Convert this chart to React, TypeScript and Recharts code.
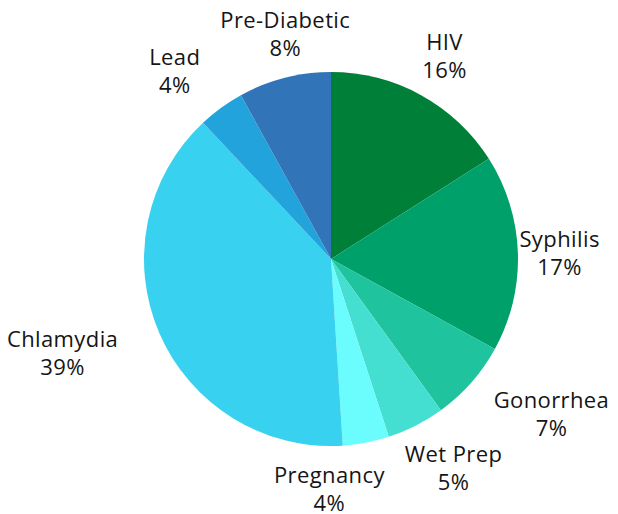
import React from 'react';
import { PieChart, Pie, Cell } from 'recharts';

const categories = ['HIV', 'Syphilis', 'Gonorrhea', 'Wet Prep', 'Pregnancy', 'Chlamydia', 'Lead', 'Pre-Diabetic'];
const shares = [16, 17, 7, 5, 4, 39, 4, 8];
const sliceColors = ['#007f39', '#00a06b', '#1fc39d', '#44dfd0', '#6bfdfd', '#38d1ef', '#22a3db', '#3174b8'];

const data = categories.map((name, i) => ({ name, value: shares[i] }));

const W = 618;
const H = 514;
const CX = 331;
const CY = 259;
const R = 187;
const FONT = 22;
const SPACING = 0.4;
const LINE = 28;
const FONT_FAMILY = '"Open Sans", sans-serif';
const LABEL_SHIFT_X = -6;
const RY = 205;
const GAP = 20;
const BOX_H = 46;

let ctx: CanvasRenderingContext2D | null = null;
function measure(s: string): number {
  try {
    if (!ctx) ctx = document.createElement('canvas').getContext('2d');
    if (ctx) {
      ctx.font = `${FONT}px ${FONT_FAMILY}`;
      return ctx.measureText(s).width + s.length * SPACING;
    }
  } catch (e) {}
  return s.length * FONT * 0.58;
}

type Box = { x: number; y: number; w: number; ux: number };

function layout(): Box[] {
  const total = shares.reduce((a, b) => a + b, 0);
  let start = 90;
  const boxes: Box[] = [];
  shares.forEach((v, i) => {
    const span = (360 * v) / total;
    const mid = start - span / 2;
    start -= span;
    const rad = (mid * Math.PI) / 180;
    const ux = Math.cos(rad);
    const uy = -Math.sin(rad);
    const w = Math.max(measure(categories[i]), measure(`${v}%`));
    const rx = 192 + 80 * Math.abs(ux * uy) + 25 * Math.max(0, uy) * Math.abs(ux);
    boxes.push({ x: CX + LABEL_SHIFT_X + rx * ux + (ux * w) / 2, y: CY + RY * uy + uy * LINE, w, ux });
  });
  // resolve overlaps between neighbours: move the more vertical label sideways
  for (let i = 0; i < boxes.length; i++) {
    const a = boxes[i];
    const b = boxes[(i + 1) % boxes.length];
    if (Math.abs(a.y - b.y) < BOX_H) {
      const need = (a.w + b.w) / 2 + GAP - Math.abs(a.x - b.x);
      if (need > 0) {
        const mover = Math.abs(a.ux) < Math.abs(b.ux) ? a : b;
        const other = mover === a ? b : a;
        mover.x += mover.x < other.x ? -need : need;
      }
    }
  }
  return boxes;
}

const boxes = layout();

const renderLabel = (props: any) => {
  const { index, name, value } = props;
  const b = boxes[index];
  if (!b) return null;
  const common = {
    textAnchor: 'middle' as const,
    dominantBaseline: 'central' as const,
    fill: '#151515',
    fontSize: FONT,
    fontFamily: FONT_FAMILY,
    letterSpacing: SPACING,
  };
  return (
    <g>
      <text x={b.x} y={b.y - LINE / 2} {...common}>
        {name}
      </text>
      <text x={b.x} y={b.y + LINE / 2} {...common}>
        {`${value}%`}
      </text>
    </g>
  );
};

export default function App() {
  return (
    <div style={{ position: 'absolute', left: 0, top: 0, width: W, height: H, background: '#ffffff' }}>
      <PieChart width={W} height={H} margin={{ top: 0, right: 0, bottom: 0, left: 0 }}>
        <Pie
          data={data}
          dataKey="value"
          nameKey="name"
          cx={CX}
          cy={CY}
          outerRadius={R}
          startAngle={90}
          endAngle={-270}
          stroke="none"
          label={renderLabel}
          labelLine={false}
          isAnimationActive={false}
        >
          {data.map((d, i) => (
            <Cell key={d.name} fill={sliceColors[i]} />
          ))}
        </Pie>
      </PieChart>
    </div>
  );
}
